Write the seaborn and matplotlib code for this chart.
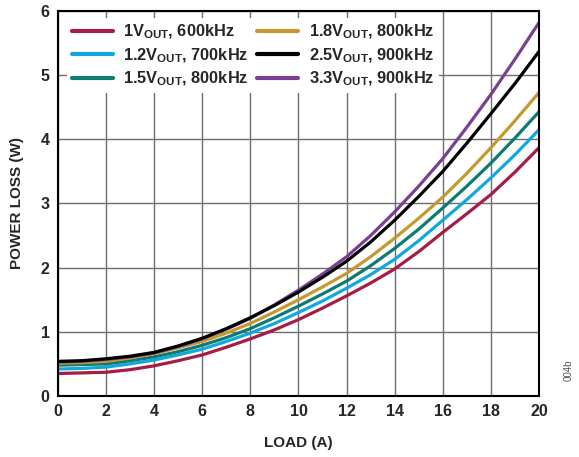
import matplotlib
matplotlib.use("Agg")
import matplotlib.pyplot as plt
import seaborn as sns
import pandas as pd

# load current (A) and power loss (W)
load_a = [0, 1, 2, 3, 4, 5, 6, 7, 8, 9, 10, 11, 12, 13, 14, 15, 16, 17, 18, 19, 20]
loss_1v0 = [0.35, 0.36, 0.37, 0.41, 0.47, 0.55, 0.64, 0.76, 0.89, 1.03, 1.19,
            1.37, 1.56, 1.76, 1.98, 2.25, 2.55, 2.84, 3.14, 3.49, 3.87]
loss_1v2 = [0.42, 0.43, 0.45, 0.50, 0.56, 0.64, 0.73, 0.85, 0.98, 1.13, 1.30,
            1.48, 1.68, 1.89, 2.13, 2.42, 2.74, 3.06, 3.40, 3.76, 4.15]
loss_1v5 = [0.48, 0.49, 0.50, 0.55, 0.61, 0.69, 0.79, 0.91, 1.05, 1.22, 1.40,
            1.59, 1.79, 2.03, 2.30, 2.60, 2.93, 3.27, 3.63, 4.02, 4.43]
loss_1v8 = [0.51, 0.52, 0.54, 0.59, 0.66, 0.75, 0.85, 0.98, 1.13, 1.31, 1.50,
            1.70, 1.91, 2.17, 2.46, 2.77, 3.10, 3.47, 3.87, 4.29, 4.73]
loss_2v5 = [0.54, 0.55, 0.58, 0.62, 0.68, 0.78, 0.90, 1.05, 1.22, 1.41, 1.62,
            1.85, 2.10, 2.40, 2.74, 3.11, 3.50, 3.94, 4.40, 4.87, 5.37]
loss_3v3 = [0.53, 0.54, 0.57, 0.61, 0.67, 0.77, 0.89, 1.04, 1.21, 1.42, 1.65,
            1.90, 2.17, 2.50, 2.87, 3.27, 3.70, 4.19, 4.70, 5.25, 5.82]

series_labels = [
    r"1V$_{\mathrm{OUT}}$, 600kHz",
    r"1.2V$_{\mathrm{OUT}}$, 700kHz",
    r"1.5V$_{\mathrm{OUT}}$, 800kHz",
    r"1.8V$_{\mathrm{OUT}}$, 800kHz",
    r"2.5V$_{\mathrm{OUT}}$, 900kHz",
    r"3.3V$_{\mathrm{OUT}}$, 900kHz",
]
series_values = [loss_1v0, loss_1v2, loss_1v5, loss_1v8, loss_2v5, loss_3v3]
series_colors = ["#a51c45", "#12a8de", "#0c7b72", "#c49a2e", "#000000", "#7b3f91"]

x_ticks = [0, 2, 4, 6, 8, 10, 12, 14, 16, 18, 20]
y_ticks = [0, 1, 2, 3, 4, 5, 6]

# long-form table for seaborn
rows = []
for lab, vals in zip(series_labels, series_values):
    for x, y in zip(load_a, vals):
        rows.append({"load": x, "loss": y, "series": lab})
df = pd.DataFrame(rows)

sns.set_style("white")
plt.rcParams["font.family"] = ["Liberation Sans", "DejaVu Sans"]
plt.rcParams["font.weight"] = "bold"
plt.rcParams["mathtext.fontset"] = "custom"
plt.rcParams["mathtext.rm"] = "Liberation Sans:bold"
plt.rcParams["mathtext.bf"] = "Liberation Sans:bold"

fig = plt.figure(figsize=(5.79, 4.57), dpi=100)
ax = fig.add_axes([0.100, 0.1335, 0.831, 0.8425])

sns.lineplot(data=df, x="load", y="loss", hue="series", hue_order=series_labels,
             palette=series_colors, linewidth=2.3, ax=ax, legend=True)

# black curve sits over the purple one where they overlap at light load
ax.lines[4].set_zorder(3)

ax.set_xlim(0, 20)
ax.set_ylim(0, 6)
ax.set_xticks(x_ticks)
ax.set_yticks(y_ticks)
ax.tick_params(axis="both", length=0, labelsize=11.5, pad=6)
for t in ax.get_xticklabels() + ax.get_yticklabels():
    t.set_fontweight("bold")

ax.grid(True, color="#6e6e6e", linewidth=1.0)
ax.set_axisbelow(True)
for s in ax.spines.values():
    s.set_color("black")
    s.set_linewidth(1.5)

ax.set_xlabel("LOAD (A)", fontsize=11, fontweight="bold", labelpad=12)
ax.set_ylabel("POWER LOSS (W)", fontsize=11, fontweight="bold", labelpad=12)

handles, labels = ax.get_legend_handles_labels()
leg = ax.legend(handles, labels, ncol=2, loc="upper left", bbox_to_anchor=(0.012, 0.99),
                frameon=True, facecolor="white", edgecolor="none", framealpha=1,
                fontsize=11.8, handlelength=2.5, handletextpad=0.65, columnspacing=0.5,
                labelspacing=0.3, borderpad=0.3, borderaxespad=0.2)
for h in leg.legend_handles:
    h.set_linewidth(3)
leg.get_frame().set_boxstyle("square", pad=0)

fig.text(0.982, 0.19, "004b", rotation=90, fontsize=7, color="#555555",
         fontweight="normal", ha="center", va="center")

fig.savefig("out.png", dpi=100)
